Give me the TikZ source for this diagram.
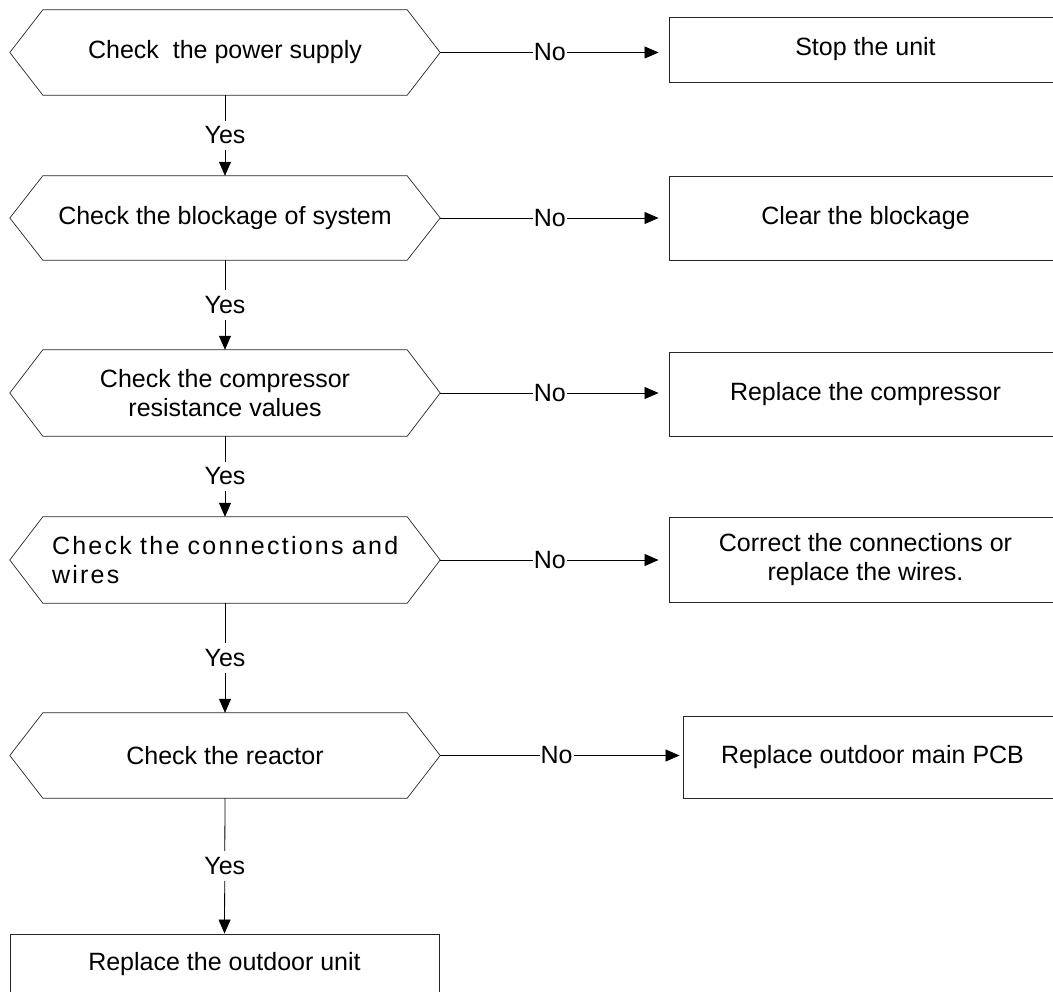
\documentclass[tikz,border=0pt]{standalone}
\usepackage{fontspec}
\setmainfont{Liberation Sans}
\usetikzlibrary{arrows.meta}
\tikzset{
  hexbox/.style={draw=none, minimum width=364pt, inner sep=0pt, align=center,
    font=\fontsize{25}{29}\selectfont},
  hexline/.style={line width=0.7pt, draw=black!85},
  actbox/.style={draw=black!85, line width=0.9pt, inner sep=0pt, align=center,
    font=\fontsize{25}{29}\selectfont},
  conn/.style={line width=0.8pt, -{Triangle[length=14pt,width=12pt]}},
  nolab/.style={fill=white, inner xsep=1pt, inner ysep=2pt, font=\fontsize{25}{29}\selectfont},
  yeslab/.style={fill=white, inner xsep=2pt, inner ysep=6pt, font=\fontsize{25}{29}\selectfont}
}
\begin{document}
\begin{tikzpicture}[x=1pt, y=-1pt]
\useasboundingbox (0,0) rectangle (1053,992);
% decision hexagons
\node[hexbox, minimum height=85pt] (h1) at (225,52.5) {Check\ \ the power supply};
\node[hexbox, minimum height=84pt] (h2) at (225,218) {Check the blockage of system};
\node[hexbox, minimum height=86pt] (h3) at (225,393) {Check the compressor\\resistance values};
\node[hexbox, minimum height=86pt, text width=346pt, align=left] (h4) at (225,560)
  {\addfontfeature{LetterSpace=9}\mbox{Check the connections and}\\wires};
\node[hexbox, minimum height=85pt] (h5) at (225,755.5) {Check the reactor};
\foreach \n in {h1,h2,h3,h4,h5}{
  \draw[hexline] (\n.north west) -- (\n.north east) -- ([xshift=33pt]\n.east)
    -- (\n.south east) -- (\n.south west) -- ([xshift=-33pt]\n.west) -- cycle;
  \coordinate (\n r) at ([xshift=33pt]\n.east);
}
% action boxes
\node[actbox, minimum width=393pt, minimum height=65pt] (b1) at (865.5,49.5) {Stop the unit};
\node[actbox, minimum width=393pt, minimum height=84pt] (b2) at (865.5,218) {Clear the blockage};
\node[actbox, minimum width=393pt, minimum height=84pt] (b3) at (865.5,394) {Replace the compressor};
\node[actbox, minimum width=393pt, minimum height=85pt] (b4) at (865.5,559.5) {Correct the connections or\\replace the wires.};
\node[actbox, minimum width=379pt, minimum height=82pt] (b5) at (872.5,757) {Replace outdoor main PCB};
\node[actbox, minimum width=429pt, minimum height=60pt] (f) at (224.5,964) {Replace the outdoor unit};
% No branches
\draw[conn, shorten >=10pt] (h1r) -- node[nolab, pos=0.48] {No} (h1r -| b1.west);
\draw[conn, shorten >=10pt] (h2r) -- node[nolab, pos=0.48] {No} (h2r -| b2.west);
\draw[conn, shorten >=10pt] (h3r) -- node[nolab, pos=0.48] {No} (h3r -| b3.west);
\draw[conn, shorten >=10pt] (h4r) -- node[nolab, pos=0.48] {No} (h4r -| b4.west);
\draw[conn, shorten >=3pt] (h5r) -- node[nolab, pos=0.48] {No} (h5r -| b5.west);
% Yes branches
\draw[conn] (h1.south) -- node[yeslab] {Yes} (h2.north);
\draw[conn] (h2.south) -- node[yeslab] {Yes} (h3.north);
\draw[conn] (h3.south) -- node[yeslab] {Yes} (h4.north);
\draw[conn] (h4.south) -- node[yeslab] {Yes} (h5.north);
\draw[conn] (h5.south) -- node[yeslab] {Yes} (f.north);
\end{tikzpicture}
\end{document}
